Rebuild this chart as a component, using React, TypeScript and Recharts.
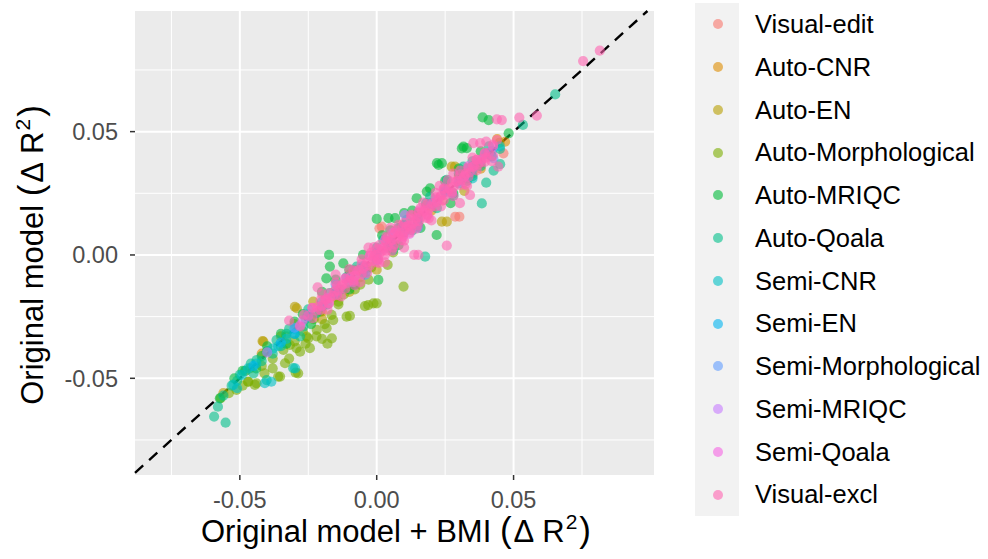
import React from "react";
import {
  ScatterChart,
  Scatter,
  XAxis,
  YAxis,
  CartesianGrid,
  ReferenceLine,
} from "recharts";

// ---------- data (x = Original model + BMI ΔR², y = Original model ΔR²) ----------
const seriesNames = [
  "Visual-edit",
  "Auto-CNR",
  "Auto-EN",
  "Auto-Morphological",
  "Auto-MRIQC",
  "Auto-Qoala",
  "Semi-CNR",
  "Semi-EN",
  "Semi-Morphological",
  "Semi-MRIQC",
  "Semi-Qoala",
  "Visual-excl",
];

const seriesColors = [
  "#F8766D",
  "#DE8C00",
  "#B79F00",
  "#7CAE00",
  "#00BA38",
  "#00C08B",
  "#00BFC4",
  "#00B4F0",
  "#619CFF",
  "#C77CFF",
  "#F564E3",
  "#FF64B0",
];

const visualEdit: number[][] = [
  [0.0010, 0.0108], [0.0287, 0.0155], [0.0463, 0.0412], [0.0302, 0.0155], [0.0018, 0.0115],
  [0.0060, 0.0040], [-0.0040, -0.0055], [0.0120, 0.0110], [0.0180, 0.0200], [0.0240, 0.0220],
  [0.0330, 0.0350], [-0.0150, -0.0140], [0.0090, 0.0120], [0.0380, 0.0370], [-0.0080, -0.0060],
  [0.0150, 0.0130],
];

const autoCNR: number[][] = [
  [0.0469, 0.0459], [0.0440, 0.0470], [0.0300, 0.0320], [0.0200, 0.0180], [0.0100, 0.0120],
  [0.0000, -0.0020], [-0.0100, -0.0080], [-0.0200, -0.0230], [-0.0300, -0.0280], [-0.0420, -0.0400],
  [0.0380, 0.0350], [0.0150, 0.0170], [-0.0050, -0.0070], [0.0250, 0.0270],
];

const autoEN: number[][] = [
  [-0.0299, -0.0210], [-0.0417, -0.0349], [0.0238, 0.0135], [0.0274, 0.0358], [0.0286, 0.0358],
  [0.0256, 0.0135], [-0.0292, -0.0216], [-0.0414, -0.0351], [-0.0232, -0.0189], [-0.0560, -0.0560],
  [-0.0480, -0.0470], [-0.0350, -0.0330], [-0.0150, -0.0170], [-0.0060, -0.0090], [0.0050, 0.0030],
  [0.0150, 0.0160], [0.0350, 0.0330], [0.0449, 0.0455], [0.0000, -0.0060], [-0.0200, -0.0260],
  [0.0320, 0.0260], [-0.0100, -0.0150],
];

const autoMorphological: number[][] = [
  [0.0098, -0.0128], [-0.0012, -0.0196], [-0.0043, -0.0207], [-0.0110, -0.0250], [-0.0031, -0.0203],
  [0.0000, -0.0196], [-0.0098, -0.0247], [-0.0164, -0.0338], [-0.0159, -0.0264], [-0.0219, -0.0304],
  [-0.0244, -0.0378], [-0.0280, -0.0392], [-0.0317, -0.0365], [-0.0341, -0.0385], [-0.0335, -0.0439],
  [-0.0353, -0.0493], [-0.0287, -0.0480], [-0.0439, -0.0520], [-0.0463, -0.0460], [-0.0469, -0.0514],
  [-0.0512, -0.0547], [-0.0207, -0.0230], [-0.0402, -0.0392], [-0.0256, -0.0331], [-0.0470, -0.0514],
  [-0.0445, -0.0527], [-0.0360, -0.0493], [-0.0296, -0.0477], [-0.0190, -0.0280], [-0.0140, -0.0200],
  [-0.0080, -0.0140], [-0.0030, -0.0100], [0.0040, -0.0040], [-0.0230, -0.0260], [-0.0270, -0.0310],
  [-0.0380, -0.0420], [-0.0200, -0.0340], [-0.0180, -0.0360], [-0.0300, -0.0350], [-0.0420, -0.0450],
  [-0.0570, -0.0580], [-0.0540, -0.0560], [-0.0250, -0.0338], [-0.0293, -0.0378], [-0.0183, -0.0297],
  [-0.0165, -0.0243], [-0.0140, -0.0189],
  [-0.0380, -0.0460], [-0.0320, -0.0420], [-0.0260, -0.0360], [-0.0220, -0.0330], [-0.0120, -0.0160],
  [-0.0060, -0.0120], [-0.0490, -0.0530], [-0.0410, -0.0480], [-0.0330, -0.0330], [-0.0240, -0.0250],
  [-0.0020, -0.0050], [0.0060, 0.0010],
];

const autoMRIQC: number[][] = [
  [0.0387, 0.0558], [0.0409, 0.0547], [0.0482, 0.0493], [0.0317, 0.0439], [0.0311, 0.0432],
  [0.0220, 0.0372], [0.0226, 0.0365], [0.0000, 0.0146], [0.0043, 0.0149], [-0.0174, 0.0000],
  [-0.0171, -0.0047], [-0.0184, -0.0095], [-0.0122, -0.0034], [0.0067, 0.0149], [0.0006, -0.0101],
  [0.0183, 0.0257], [0.0219, 0.0081], [0.0329, 0.0433], [0.0238, 0.0372], [0.0195, 0.0270],
  [0.0146, 0.0230], [-0.0573, -0.0581], [-0.0400, -0.0370], [-0.0300, -0.0270], [-0.0240, -0.0280],
  [-0.0080, -0.0120], [0.0100, 0.0170], [0.0280, 0.0250], [0.0350, 0.0320], [-0.0490, -0.0470],
  [-0.0200, -0.0150], [-0.0100, -0.0140],
  [-0.0350, -0.0320], [-0.0330, -0.0360], [-0.0270, -0.0240], [-0.0150, -0.0100], [-0.0050, 0.0000],
  [0.0020, 0.0080], [0.0080, 0.0040], [0.0130, 0.0180], [0.0160, 0.0110], [0.0250, 0.0300],
  [0.0300, 0.0350], [0.0330, 0.0300], [0.0380, 0.0420], [0.0420, 0.0400], [-0.0440, -0.0460],
  [-0.0520, -0.0500], [-0.0420, -0.0410], [-0.0100, -0.0060], [0.0050, 0.0100], [0.0270, 0.0210],
];

const autoQoala: number[][] = [
  [-0.0594, -0.0655], [-0.0552, -0.0680], [0.0652, 0.0651], [0.0534, 0.0527], [0.0451, 0.0368],
  [0.0427, 0.0342], [0.0400, 0.0293], [0.0384, 0.0209], [0.0177, -0.0007], [-0.0500, -0.0486],
  [-0.0439, -0.0426], [-0.0366, -0.0345], [-0.0305, -0.0459], [-0.0402, -0.0507], [-0.0268, -0.0291],
  [-0.0171, -0.0155], [-0.0073, -0.0047], [0.0024, 0.0061], [0.0110, 0.0142], [0.0195, 0.0236],
  [0.0256, 0.0304], [0.0317, 0.0358], [-0.0220, -0.0236], [-0.0330, -0.0320], [-0.0460, -0.0440],
  [-0.0530, -0.0530], [-0.0250, -0.0220], [-0.0130, -0.0140], [0.0060, 0.0020], [0.0150, 0.0120],
  [0.0280, 0.0240], [0.0350, 0.0380], [-0.0380, -0.0400], [-0.0280, -0.0330], [0.0080, 0.0110],
  [-0.0580, -0.0615],
  [-0.0480, -0.0470], [-0.0450, -0.0480], [-0.0420, -0.0430], [-0.0400, -0.0390], [-0.0350, -0.0370],
  [-0.0320, -0.0300], [-0.0300, -0.0320], [-0.0260, -0.0260], [-0.0200, -0.0210], [-0.0180, -0.0200],
  [-0.0110, -0.0090], [-0.0040, -0.0070], [0.0000, 0.0030], [0.0040, 0.0030], [0.0130, 0.0100],
  [0.0180, 0.0210], [0.0220, 0.0190], [0.0300, 0.0330], [0.0330, 0.0310], [0.0380, 0.0360],
  [0.0410, 0.0440], [0.0450, 0.0430], [-0.0560, -0.0570], [-0.0510, -0.0510],
];

const semiCNR: number[][] = [
  [-0.0409, -0.0520], [-0.0298, -0.0460], [-0.0385, -0.0514], [-0.0493, -0.0487], [-0.0524, -0.0527],
  [-0.0510, -0.0540], [-0.0300, -0.0300], [-0.0200, -0.0190], [-0.0100, -0.0110], [0.0000, 0.0010],
  [0.0100, 0.0090], [0.0200, 0.0210], [0.0300, 0.0290], [0.0400, 0.0410], [0.0350, 0.0310],
  [-0.0440, -0.0440], [-0.0360, -0.0370], [0.0050, 0.0060], [0.0150, 0.0140], [0.0250, 0.0260],
  [-0.0470, -0.0460], [-0.0380, -0.0380], [-0.0330, -0.0340], [-0.0250, -0.0240], [-0.0150, -0.0160],
  [-0.0050, -0.0050], [0.0050, 0.0040], [0.0350, 0.0360], [0.0450, 0.0440],
];

const semiEN: number[][] = [
  [-0.0250, -0.0250], [-0.0150, -0.0155], [-0.0050, -0.0045], [0.0050, 0.0052], [0.0150, 0.0148],
  [0.0250, 0.0255], [0.0350, 0.0345], [-0.0350, -0.0355], [-0.0450, -0.0450], [0.0420, 0.0420],
  [-0.0300, -0.0320], [0.0000, -0.0020], [0.0100, 0.0120],
];

const semiMorphological: number[][] = [
  [0.0426, 0.0392], [-0.0043, -0.0081], [-0.0200, -0.0205], [-0.0100, -0.0095], [0.0000, 0.0003],
  [0.0100, 0.0098], [0.0200, 0.0205], [0.0300, 0.0298], [0.0380, 0.0385], [-0.0300, -0.0295],
  [0.0150, 0.0110], [-0.0150, -0.0120],
];

const semiMRIQC: number[][] = [
  [0.0103, 0.0162], [-0.0180, -0.0175], [-0.0080, -0.0085], [0.0020, 0.0025], [0.0120, 0.0118],
  [0.0220, 0.0223], [0.0320, 0.0318], [-0.0280, -0.0285], [0.0060, 0.0090], [-0.0400, -0.0395],
];

const semiQoala: number[][] = [
  [-0.0235, -0.0215], [-0.0175, -0.0195], [-0.0115, -0.0095], [-0.0085, -0.0110], [-0.0025, -0.0003],
  [0.0005, -0.0020], [0.0065, 0.0090], [0.0095, 0.0070], [0.0155, 0.0180], [0.0185, 0.0160],
  [0.0245, 0.0270], [0.0275, 0.0250], [0.0335, 0.0360], [0.0395, 0.0410], [0.0425, 0.0440],
  [-0.0270, -0.0265], [0.0030, 0.0060], [0.0120, 0.0085],
];

const visualExcl: number[][] = [
  [-0.0250, -0.0246], [-0.0220, -0.0226], [-0.0190, -0.0185], [-0.0160, -0.0166], [-0.0130, -0.0127],
  [-0.0100, -0.0104], [-0.0070, -0.0066], [-0.0040, -0.0045], [-0.0010, -0.0006], [0.0020, 0.0016],
  [0.0050, 0.0055], [0.0080, 0.0077], [0.0110, 0.0114], [0.0140, 0.0136], [0.0170, 0.0175],
  [0.0200, 0.0196], [0.0230, 0.0234], [0.0260, 0.0257], [0.0290, 0.0295], [0.0320, 0.0318],
  [0.0350, 0.0356], [0.0380, 0.0376], [0.0410, 0.0414],
  [-0.0200, -0.0158], [-0.0150, -0.0112], [-0.0100, -0.0057], [-0.0055, -0.0018], [-0.0010, 0.0032],
  [0.0035, 0.0074], [0.0080, 0.0122], [0.0125, 0.0163], [0.0170, 0.0212], [0.0215, 0.0252],
  [0.0260, 0.0303], [0.0305, 0.0342], [0.0350, 0.0395],
  [-0.0180, -0.0222], [-0.0130, -0.0168], [-0.0080, -0.0122], [-0.0035, -0.0073], [0.0010, -0.0032],
  [0.0055, 0.0017], [0.0100, 0.0058], [0.0145, 0.0107], [0.0190, 0.0148], [0.0235, 0.0197],
  [0.0280, 0.0238], [0.0325, 0.0287],
  [-0.0265, -0.0243], [-0.0235, -0.0214], [-0.0205, -0.0183], [-0.0175, -0.0156], [-0.0145, -0.0124],
  [-0.0115, -0.0096], [-0.0085, -0.0063], [-0.0055, -0.0036], [-0.0025, -0.0004], [0.0005, 0.0026],
  [0.0035, 0.0054], [0.0065, 0.0087], [0.0095, 0.0114], [0.0125, 0.0147], [0.0155, 0.0174],
  [0.0185, 0.0207], [0.0215, 0.0234], [0.0245, 0.0267], [0.0275, 0.0294], [0.0305, 0.0327],
  [0.0335, 0.0354], [0.0365, 0.0387], [0.0395, 0.0414], [0.0425, 0.0447],
  [-0.0235, -0.0256], [-0.0205, -0.0223], [-0.0175, -0.0197], [-0.0145, -0.0163], [-0.0115, -0.0137],
  [-0.0085, -0.0103], [-0.0055, -0.0077], [-0.0025, -0.0043], [0.0005, -0.0017], [0.0035, 0.0017],
  [0.0065, 0.0043], [0.0095, 0.0077], [0.0125, 0.0103], [0.0155, 0.0137], [0.0185, 0.0163],
  [0.0215, 0.0197], [0.0245, 0.0223], [0.0275, 0.0257], [0.0305, 0.0283], [0.0335, 0.0317],
  [0.0365, 0.0343], [0.0395, 0.0377], [0.0425, 0.0403],
  [-0.0215, -0.0210], [-0.0200, -0.0205], [-0.0185, -0.0180], [-0.0170, -0.0175], [-0.0155, -0.0150],
  [-0.0140, -0.0145], [-0.0125, -0.0120], [-0.0110, -0.0115], [-0.0095, -0.0090], [-0.0080, -0.0085],
  [-0.0065, -0.0060], [-0.0050, -0.0055], [-0.0035, -0.0030], [-0.0020, -0.0025], [-0.0005, 0.0000],
  [0.0010, 0.0005], [0.0025, 0.0030], [0.0040, 0.0035], [0.0055, 0.0060], [0.0070, 0.0065],
  [0.0085, 0.0090], [0.0100, 0.0095], [0.0115, 0.0120], [0.0130, 0.0125], [0.0145, 0.0150],
  [0.0160, 0.0155], [0.0175, 0.0180], [0.0190, 0.0185], [0.0205, 0.0210], [0.0220, 0.0215],
  [0.0235, 0.0240], [0.0250, 0.0245], [0.0265, 0.0270], [0.0280, 0.0275], [0.0295, 0.0300],
  [0.0310, 0.0305], [0.0325, 0.0330], [0.0340, 0.0335], [0.0355, 0.0360], [0.0370, 0.0365],
  [0.0385, 0.0390], [0.0400, 0.0395],
  [-0.0020, 0.0010], [0.0010, 0.0040], [0.0040, 0.0070], [0.0070, 0.0100], [0.0100, 0.0130],
  [0.0130, 0.0160], [0.0160, 0.0190], [0.0000, -0.0030], [0.0030, 0.0000], [0.0060, 0.0030],
  [0.0090, 0.0060], [0.0120, 0.0090], [0.0150, 0.0120], [0.0180, 0.0150],
  [0.0050, 0.0110], [-0.0030, 0.0030], [0.0200, 0.0140], [0.0100, 0.0030], [-0.0150, -0.0080],
  [0.0280, 0.0330], [0.0400, 0.0460], [0.0420, 0.0380], [0.0330, 0.0280], [0.0030, -0.0030],
  [-0.0060, -0.0110], [0.0230, 0.0280],
  [-0.0320, -0.0266], [-0.0216, -0.0131], [0.0137, 0.0000], [0.0256, 0.0038], [0.0439, 0.0550],
  [0.0521, 0.0557], [0.0585, 0.0565], [0.0754, 0.0786], [0.0815, 0.0828], [0.0457, 0.0547],
  [0.0378, 0.0453], [0.0353, 0.0453], [0.0444, 0.0358], [0.0304, 0.0210], [0.0341, 0.0243],
  [0.0439, 0.0466], [0.0365, 0.0385], [-0.0280, -0.0290], [0.0152, 0.0000],
];

const seriesValues: number[][][] = [
  visualEdit,
  autoCNR,
  autoEN,
  autoMorphological,
  autoMRIQC,
  autoQoala,
  semiCNR,
  semiEN,
  semiMorphological,
  semiMRIQC,
  semiQoala,
  visualExcl,
];

const majorTicks = [-0.05, 0, 0.05];
const minorTicks = [-0.075, -0.025, 0.025, 0.075];
const xDomain: [number, number] = [-0.0883, 0.1013];
const yDomain: [number, number] = [-0.0892, 0.0989];
const identityLine = [
  { x: -0.0883, y: -0.0883 },
  { x: 0.0989, y: 0.0989 },
];

// ---------- rendering ----------
const FONT = "'Liberation Sans', Arial, Helvetica, sans-serif";

const makeDot = (color: string) => (props: any) => {
  const { cx, cy } = props;
  if (cx == null || cy == null) return <g />;
  return <circle cx={cx} cy={cy} r={5.1} fill={color} fillOpacity={0.6} stroke="none" />;
};

const fmt = (v: number) => v.toFixed(2);

const XTitle = () => (
  <text x={396} y={542} textAnchor="middle" fontSize={31} fontFamily={FONT} fill="#000">
    Original model + BMI{" "}
    <tspan fontSize={35}>(</tspan>
    <tspan dx={2}>Δ</tspan>
    <tspan dx={8}>R</tspan>
    <tspan dx={1} dy={-13} fontSize={21}>2</tspan>
    <tspan dx={2} dy={13} fontSize={35}>)</tspan>
  </text>
);

const YTitle = () => (
  <text
    transform="translate(43,255) rotate(-90)"
    textAnchor="middle"
    fontSize={31}
    fontFamily={FONT}
    fill="#000"
  >
    Original model{" "}
    <tspan fontSize={35}>(</tspan>
    <tspan dx={2}>Δ</tspan>
    <tspan dx={8}>R</tspan>
    <tspan dx={1} dy={-13} fontSize={21}>2</tspan>
    <tspan dx={2} dy={13} fontSize={35}>)</tspan>
  </text>
);

export default function App() {
  const rowH = 42.75;
  return (
    <div style={{ position: "absolute", left: 0, top: 0, width: 988, height: 559, background: "#fff" }}>
      <ScatterChart width={988} height={559} margin={{ top: 11, right: 334, bottom: 0, left: 0 }}>
        <CartesianGrid
          fill="#EBEBEB"
          stroke="#FFFFFF"
          strokeWidth={1}
          horizontalValues={minorTicks}
          verticalValues={minorTicks}
        />
        <CartesianGrid
          stroke="#FFFFFF"
          strokeWidth={2}
          horizontalValues={majorTicks}
          verticalValues={majorTicks}
        />
        <XAxis
          type="number"
          dataKey="x"
          domain={xDomain}
          allowDataOverflow
          ticks={majorTicks}
          tickFormatter={fmt}
          height={84}
          axisLine={false}
          tickSize={5}
          tickMargin={11}
          tickLine={{ stroke: "#333333", strokeWidth: 1.5 }}
          tick={{ fill: "#4D4D4D", fontSize: 23.5, fontFamily: FONT }}
          label={{ content: () => <XTitle /> }}
        />
        <YAxis
          type="number"
          dataKey="y"
          domain={yDomain}
          allowDataOverflow
          ticks={majorTicks}
          tickFormatter={fmt}
          width={135}
          axisLine={false}
          tickSize={5}
          tickMargin={12}
          tickLine={{ stroke: "#333333", strokeWidth: 1.5 }}
          tick={{ fill: "#4D4D4D", fontSize: 23.5, fontFamily: FONT }}
          label={{ content: () => <YTitle /> }}
        />
        {seriesValues.map((vals, i) => (
          <Scatter
            key={seriesNames[i]}
            name={seriesNames[i]}
            data={vals.map(([x, y]) => ({ x, y }))}
            fill={seriesColors[i]}
            shape={makeDot(seriesColors[i])}
            isAnimationActive={false}
          />
        ))}
        <ReferenceLine
          segment={identityLine}
          stroke="#000"
          strokeWidth={2.4}
          strokeDasharray="11 8"
          ifOverflow="visible"
        />
      </ScatterChart>
      <div
        style={{
          position: "absolute",
          left: 695,
          top: 3,
          width: 44,
          height: rowH * 12,
          background: "#F2F2F2",
        }}
      />
      {seriesNames.map((name, i) => (
        <React.Fragment key={name}>
          <div
            style={{
              position: "absolute",
              left: 717.5 - 5,
              top: 3 + rowH * i + rowH / 2 - 5,
              width: 10,
              height: 10,
              borderRadius: 5,
              background: seriesColors[i],
              opacity: 0.6,
            }}
          />
          <div
            style={{
              position: "absolute",
              left: 755,
              top: 3 + rowH * i,
              height: rowH,
              lineHeight: `${rowH}px`,
              fontSize: 25.5,
              fontFamily: FONT,
              color: "#000",
              whiteSpace: "nowrap",
            }}
          >
            {name}
          </div>
        </React.Fragment>
      ))}
    </div>
  );
}
